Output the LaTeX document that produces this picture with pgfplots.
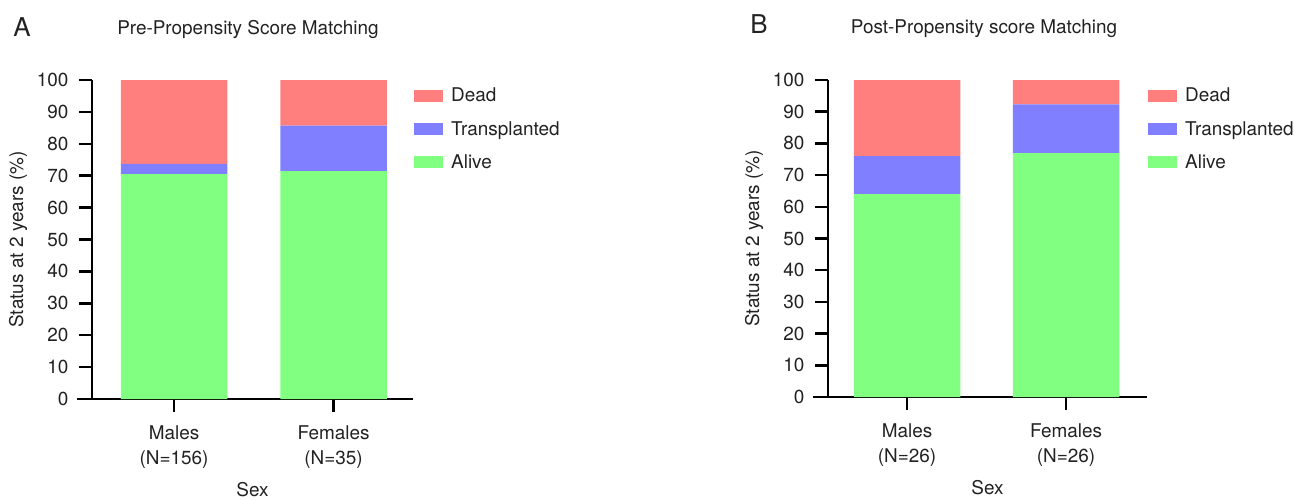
\documentclass[border=0pt]{standalone}
\usepackage{fontspec}
\setmainfont{TeX Gyre Heros}
\usepackage{pgfplots}
\pgfplotsset{compat=1.18}
\definecolor{cdead}{HTML}{FF7F7F}
\definecolor{ctrans}{HTML}{7F7FFF}
\definecolor{calive}{HTML}{80FF80}
\definecolor{txt}{HTML}{222222}
\pgfplotsset{
 mystyle/.style={
  scale only axis, ymin=0, ymax=100, ytick={0,10,...,100},
  axis x line*=bottom, axis y line*=left,
  x axis line style={line width=2.5bp, shorten <=-15bp},
  y axis line style={line width=2.5bp},
  tick align=outside, major tick length=13bp,
  every tick/.style={black, line width=2.5bp},
  ybar stacked, bar width=106.5bp,
  xtick={0,1},
  font=\fontsize{19}{24}\selectfont,
  ticklabel style={font=\fontsize{19}{25}\selectfont, text=txt},
  yticklabel style={xshift=-7bp},
  xticklabel style={align=center, yshift=-10bp},
  /pgf/number format/assume math mode=true,
  every axis y label/.style={at={(axis description cs:0,0.5)}, xshift=-74bp, rotate=90, anchor=center, font=\fontsize{19}{24}\selectfont, text=txt},
  every axis x label/.style={at={(axis description cs:0.5,0)}, yshift=-91bp, anchor=center, font=\fontsize{19}{24}\selectfont, text=txt},
  ylabel={Status at 2 years (\%)}, xlabel={Sex},
  legend style={at={(1,1)}, anchor=north west, xshift=1bp, yshift=-6bp, draw=none, fill=none,
     font=\fontsize{19}{24}\selectfont, text=txt, row sep=14bp, inner sep=0pt,
     cells={anchor=west}, /tikz/every odd column/.append style={column sep=6bp}},
  legend image code/.code={\fill[##1] (0bp,-6bp) rectangle (29bp,6bp);},
  reverse legend,
 }
}
\begin{document}
\begin{tikzpicture}
\useasboundingbox (0,0) rectangle (1294bp,-500bp);
\node[font=\fontsize{26}{30}\selectfont, text=txt] at (22bp,-27bp) {A};
\node[font=\fontsize{19}{24}\selectfont, text=txt] at (248bp,-29bp) {Pre-Propensity Score Matching};
\node[font=\fontsize{26}{30}\selectfont, text=txt] at (759bp,-24bp) {B};
\node[font=\fontsize{19}{24}\selectfont, text=txt] at (984bp,-29bp) {Post-Propensity score Matching};
\begin{axis}[mystyle, at={(92bp,-399bp)}, anchor=south west, width=321bp, height=319bp,
  xmin=-0.514, xmax=1.498,
  xticklabels={{Males\\(N=156)},{Females\\(N=35)}}]
\addplot[fill=calive, draw=none] coordinates {(0,70.5) (1,71.4)};
\addplot[fill=ctrans, draw=none] coordinates {(0,3.2) (1,14.3)};
\addplot[fill=cdead, draw=none] coordinates {(0,26.3) (1,14.3)};
\legend{Alive,Transplanted,Dead}
\end{axis}
\begin{axis}[mystyle, at={(828bp,-397bp)}, anchor=south west, width=319bp, height=317bp,
  xmin=-0.497, xmax=1.509,
  xticklabels={{Males\\(N=26)},{Females\\(N=26)}}]
\addplot[fill=calive, draw=none] coordinates {(0,64.0) (1,76.9)};
\addplot[fill=ctrans, draw=none] coordinates {(0,12.0) (1,15.4)};
\addplot[fill=cdead, draw=none] coordinates {(0,24.0) (1,7.7)};
\legend{Alive,Transplanted,Dead}
\end{axis}
\end{tikzpicture}
\end{document}
